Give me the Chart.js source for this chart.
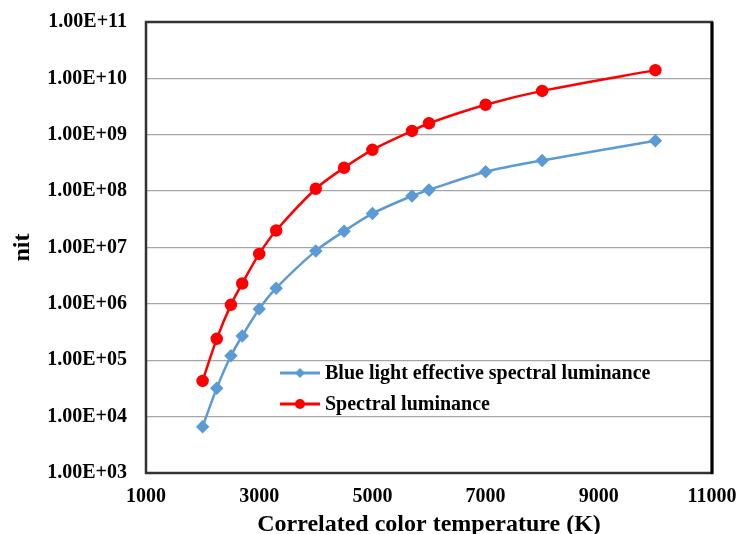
<!DOCTYPE html>
<html>
<head>
<meta charset="utf-8">
<script src="https://cdn.jsdelivr.net/npm/chart.js@4/dist/chart.umd.min.js"></script>
<style>
  html, body { margin: 0; padding: 0; background: #fff; }
  #wrap { position: relative; width: 738px; height: 534px; overflow: hidden; }
  #legend { position: absolute; left: 280px; top: 357px; font-family: "Liberation Serif", "Times New Roman", serif;
            font-weight: bold; font-size: 20px; color: #000; }
  #legend div { height: 31px; display: flex; align-items: center; white-space: nowrap; }
  #legend svg { margin-right: 5px; }
</style>
</head>
<body>
<div id="wrap">
  <canvas id="lumChart" width="738" height="534"></canvas>
  <div id="legend">
    <div><svg width="40" height="14"><line x1="0" y1="7" x2="40" y2="7" stroke="#5b9bd5" stroke-width="3"/><polygon points="20,2 25,7 20,12 15,7" fill="#5b9bd5"/></svg>Blue light effective spectral luminance</div>
    <div><svg width="40" height="14"><line x1="0" y1="7" x2="40" y2="7" stroke="#ff0000" stroke-width="3"/><circle cx="20" cy="7" r="5" fill="#ff0000"/></svg>Spectral luminance</div>
  </div>
</div>
<script>
// Temperaturas (K) y luminancias (nit)
var temperaturas = [2000, 2250, 2500, 2700, 3000, 3300, 4000, 4500, 5000, 5700, 6000, 7000, 8000, 10000];
var luminanciaAzul = [6.6e3, 3.2e4, 1.2e5, 2.7e5, 8.1e5, 1.9e6, 8.7e6, 1.95e7, 4.0e7, 8.2e7, 1.05e8, 2.2e8, 3.5e8, 7.8e8];
var luminanciaEspectral = [4.3e4, 2.4e5, 9.6e5, 2.3e6, 7.7e6, 2.0e7, 1.1e8, 2.6e8, 5.4e8, 1.17e9, 1.6e9, 3.4e9, 6.0e9, 1.4e10];
var ticksX = [1000, 3000, 5000, 7000, 9000, 11000];
var ticksY = [1e3, 1e4, 1e5, 1e6, 1e7, 1e8, 1e9, 1e10, 1e11];

function puntos(valores) {
    return temperaturas.map(function (t, i) { return { x: t, y: valores[i] }; });
}

function sinRelleno(s) {
    s.paddingTop = 0; s.paddingBottom = 0; s.paddingLeft = 0; s.paddingRight = 0;
}

// Marco del área de trazado
var marco = {
    id: 'marco',
    afterDraw: function (chart) {
        var a = chart.chartArea, ctx = chart.ctx;
        ctx.save();
        ctx.strokeStyle = '#333';
        ctx.lineWidth = 2.5;
        ctx.strokeRect(a.left, a.top, a.right - a.left, a.bottom - a.top);
        ctx.strokeStyle = '#000';
        ctx.lineWidth = 3;
        ctx.beginPath();
        ctx.moveTo(a.right, a.top);
        ctx.lineTo(a.right, a.bottom + 1);
        ctx.stroke();
        ctx.restore();
    }
};

var fuente = { family: '"Liberation Serif", "Times New Roman", serif', weight: 'bold', size: 20 };

document.addEventListener('DOMContentLoaded', function () {
    var ctx = document.getElementById('lumChart').getContext('2d');
    new Chart(ctx, {
        type: 'line',
        data: {
            datasets: [{
                label: 'Blue light effective spectral luminance',
                data: puntos(luminanciaAzul),
                borderColor: '#5b9bd5',
                backgroundColor: '#5b9bd5',
                borderWidth: 2.5,
                pointStyle: 'rectRot',
                pointRadius: 5,
                tension: 0.3
            }, {
                label: 'Spectral luminance',
                data: puntos(luminanciaEspectral),
                borderColor: '#ff0000',
                backgroundColor: '#ff0000',
                borderWidth: 2.5,
                pointStyle: 'circle',
                pointRadius: 5,
                tension: 0.3
            }]
        },
        options: {
            responsive: false,
            animation: false,
            layout: { padding: { top: 22, right: 26, left: 0, bottom: 0 } },
            plugins: { legend: { display: false }, tooltip: { enabled: false } },
            scales: {
                x: {
                    type: 'linear',
                    min: 1000,
                    max: 11000,
                    afterBuildTicks: function (s) { s.ticks = ticksX.map(function (v) { return { value: v }; }); },
                    afterFit: function (s) { s.height = 61; sinRelleno(s); },
                    grid: { display: false, drawTicks: false },
                    border: { display: false },
                    ticks: { color: '#000', font: fuente, padding: 12, maxRotation: 0,
                             callback: function (v) { return String(v); } },
                    title: { display: true, text: 'Correlated color temperature (K)', color: '#000',
                             font: { family: fuente.family, weight: 'bold', size: 24 }, padding: { top: 0, bottom: -5 } }
                },
                y: {
                    type: 'logarithmic',
                    min: 1e3,
                    max: 1e11,
                    afterBuildTicks: function (s) { s.ticks = ticksY.map(function (v) { return { value: v }; }); },
                    afterFit: function (s) { s.width = 146; sinRelleno(s); },
                    grid: { color: '#a6a6a6', lineWidth: 1.3, drawTicks: false },
                    border: { display: false },
                    ticks: {
                        color: '#000', font: fuente, padding: 19,
                        callback: function (v) {
                            var e = Math.round(Math.log10(v));
                            return '1.00E' + (e < 0 ? '-' : '+') + (Math.abs(e) < 10 ? '0' : '') + Math.abs(e);
                        }
                    },
                    title: { display: true, text: 'nit', color: '#000',
                             font: { family: fuente.family, weight: 'bold', size: 24 }, padding: { top: 8, bottom: 0 } }
                }
            }
        },
        plugins: [marco]
    });
});
</script>
</body>
</html>
